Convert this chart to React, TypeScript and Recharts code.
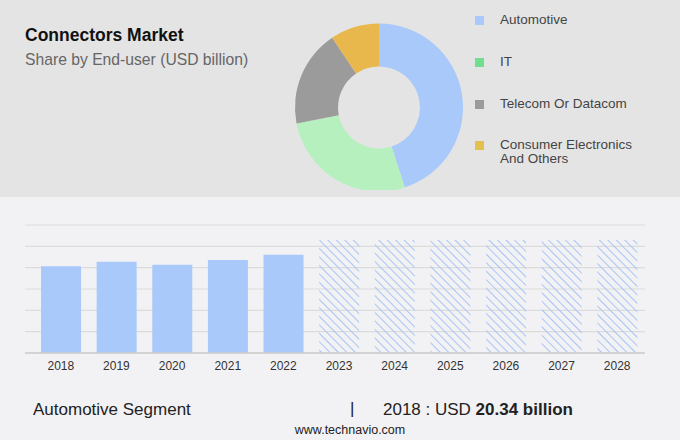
import React, { ReactElement } from 'react';
import { PieChart, Pie, Cell, BarChart, Bar, XAxis, YAxis, CartesianGrid } from 'recharts';

// donut: share by end-user
const segmentNames = ['Automotive', 'IT', 'Telecom Or Datacom', 'Consumer Electronics And Others'];
const segmentShares = [45.0, 26.9, 18.6, 9.4];
const pieColors = ['#a9c9fb', '#b6f0be', '#9b9b9b', '#e8b84d'];
const legendColors = ['#a9c9fb', '#70de8e', '#9b9b9b', '#e3c050'];

// bars: automotive segment size
const years = ['2018', '2019', '2020', '2021', '2022', '2023', '2024', '2025', '2026', '2027', '2028'];
const actualValues = [20.34, 21.4, 20.7, 21.8, 23.0, null, null, null, null, null, null];
const forecastValues = [null, null, null, null, null, 26.5, 26.5, 26.5, 26.5, 26.5, 26.5];
const yTicks = [0, 5, 10, 15, 20, 25, 30];

const FONT = '"Liberation Sans", Arial, sans-serif';

export default function App(): ReactElement {
  const pieData = segmentNames.map((name, i) => ({ name, value: segmentShares[i] }));
  const barData = years.map((year, i) => ({ year, actual: actualValues[i], forecast: forecastValues[i] }));

  return (
    <div style={{ position: 'fixed', left: 0, top: 0, width: 680, height: 440, fontFamily: FONT, background: '#f2f2f4', overflow: 'hidden' }}>
      {/* top panel */}
      <div style={{ position: 'absolute', left: 0, top: 0, width: 680, height: 197, background: '#e4e4e4' }} />
      <div style={{ position: 'absolute', left: 25, top: 25, fontSize: 17.5, fontWeight: 'bold', color: '#111' }}>Connectors Market</div>
      <div style={{ position: 'absolute', left: 25, top: 51, fontSize: 15.7, color: '#666' }}>Share by End-user (USD billion)</div>

      <div style={{ position: 'absolute', left: 279, top: 0 }}>
        <PieChart width={200} height={190} margin={{ top: 0, right: 0, bottom: 0, left: 0 }}>
          <Pie
            data={pieData}
            dataKey="value"
            cx={100}
            cy={107.5}
            innerRadius={41}
            outerRadius={84}
            startAngle={90}
            endAngle={-270}
            stroke="none"
            isAnimationActive={false}
          >
            {pieData.map((d, i) => (
              <Cell key={d.name} fill={pieColors[i]} />
            ))}
          </Pie>
        </PieChart>
      </div>

      {/* legend */}
      {segmentNames.map((name, i) => (
        <div key={name} style={{ position: 'absolute', left: 475, top: [12, 54, 96, 137][i], display: 'flex', alignItems: 'flex-start' }}>
          <div style={{ width: 9, height: 9, background: legendColors[i], marginTop: 4 }} />
          <div style={{ marginLeft: 16, fontSize: 13.5, lineHeight: '14px', color: '#444', width: 160, paddingTop: 1 }}>
            {i === 3 ? (<>Consumer Electronics<br />And Others</>) : name}
          </div>
        </div>
      ))}

      {/* bar chart */}
      <div style={{ position: 'absolute', left: 0, top: 200 }}>
        <BarChart width={680} height={180} data={barData} margin={{ top: 25, right: 35, left: 25, bottom: 0 }} barSize={40}>
          <defs>
            <pattern id="hatch" width="6" height="6" patternUnits="userSpaceOnUse" patternTransform="rotate(45)">
              <line x1="0" y1="0.5" x2="6" y2="0.5" stroke="#a7c5f3" strokeWidth={1} />
            </pattern>
          </defs>
          <CartesianGrid vertical={false} stroke="#dcdcdc" strokeWidth={1.2} />
          <YAxis hide domain={[0, 30]} ticks={yTicks} interval={0} />
          <XAxis
            dataKey="year"
            padding={{ left: 8, right: 0 }}
            height={27}
            tickLine={false}
            axisLine={{ stroke: '#cccccc', strokeWidth: 1.5 }}
            tick={{ fontSize: 12, fill: '#333', fontFamily: FONT }}
            interval={0}
          />
          <Bar dataKey="actual" stackId="s" fill="#a9c9fb" isAnimationActive={false} />
          <Bar dataKey="forecast" stackId="s" fill="url(#hatch)" isAnimationActive={false} />
        </BarChart>
      </div>

      {/* footer */}
      <div style={{ position: 'absolute', left: 33, top: 400, fontSize: 17, color: '#222' }}>Automotive Segment</div>
      <div style={{ position: 'absolute', left: 350, top: 399, fontSize: 17, color: '#222' }}>|</div>
      <div style={{ position: 'absolute', left: 383, top: 400, fontSize: 17, color: '#222' }}>
        2018 : USD <span style={{ fontWeight: 'bold', fontSize: 17 }}>20.34 billion</span>
      </div>
      <div style={{ position: 'absolute', left: 0, width: 700, textAlign: 'center', top: 423, fontSize: 12.5, color: '#222' }}>www.technavio.com</div>
    </div>
  );
}
